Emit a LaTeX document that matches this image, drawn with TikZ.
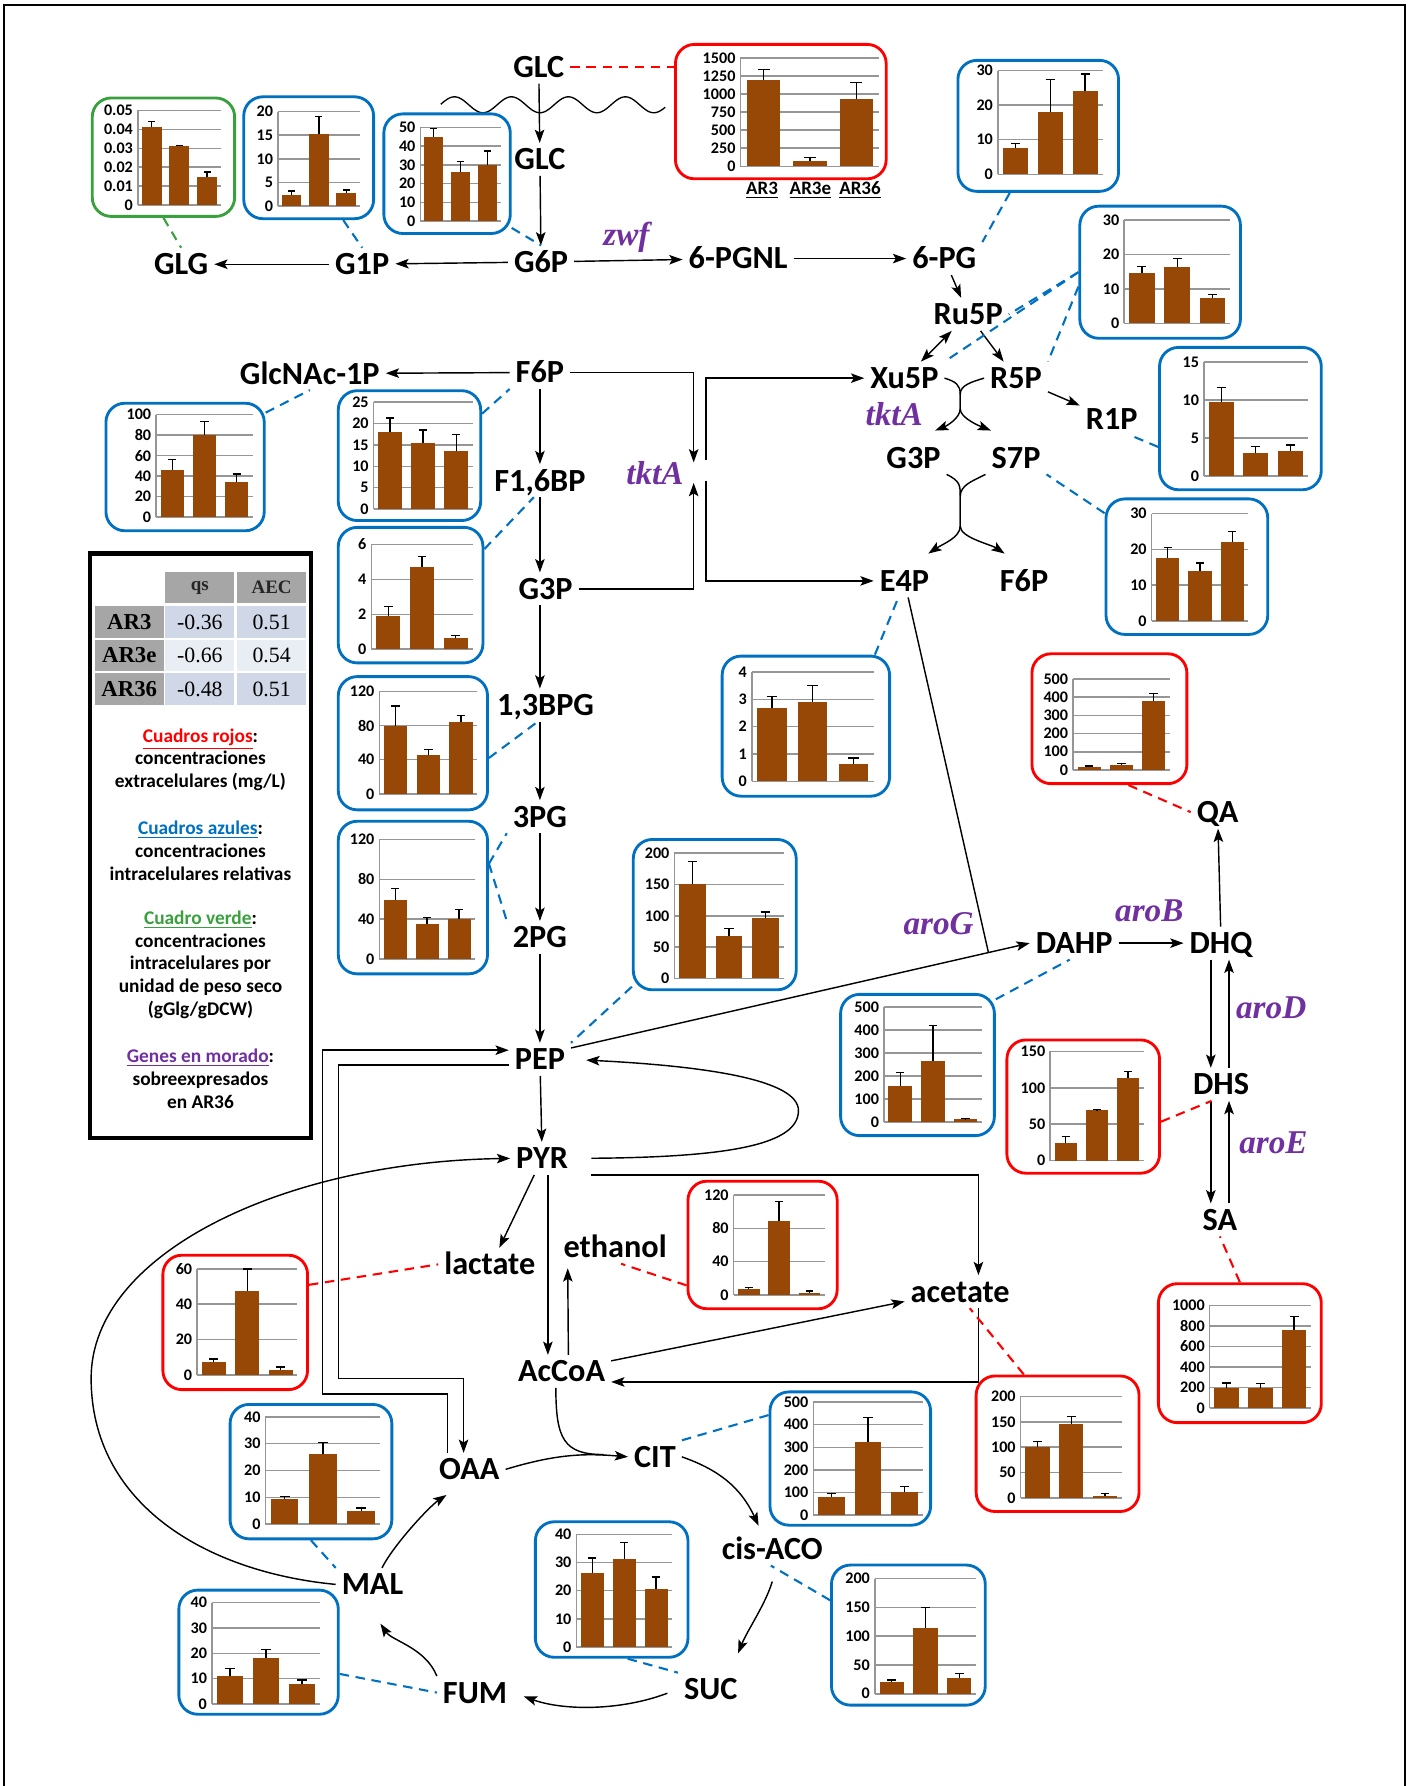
\documentclass[tikz,border=0pt]{standalone}
\usepackage{fontspec}
\setmainfont{Carlito}
\newfontfamily\genefont{Liberation Serif}
\usetikzlibrary{arrows.meta,calc,fit}

\definecolor{azul}{RGB}{0,112,192}
\definecolor{rojo}{RGB}{255,0,0}
\definecolor{verde}{RGB}{56,160,60}
\definecolor{morado}{RGB}{112,48,160}
\definecolor{cafe}{RGB}{151,72,6}
\definecolor{rejilla}{RGB}{150,150,150}
\definecolor{celgris}{RGB}{166,166,166}
\definecolor{celazul}{RGB}{208,216,232}
\definecolor{celclaro}{RGB}{233,237,244}

\tikzset{
  met/.style={font=\bfseries\fontsize{17}{17}\selectfont, inner sep=3pt, text height=11pt, text depth=0pt},
  gene/.style={font=\genefont\bfseries\itshape\fontsize{17.5}{17.5}\selectfont, text=morado, inner sep=1pt},
  flow/.style={line width=0.75pt, -{Stealth[length=7pt,width=5pt,inset=1.5pt]}},
  flowboth/.style={line width=0.75pt, {Stealth[length=7pt,width=5pt,inset=1.5pt]}-{Stealth[length=7pt,width=5pt,inset=1.5pt]}},
  thinline/.style={line width=0.75pt},
  dlink/.style={dash pattern=on 5pt off 3.5pt, line width=1.1pt},
  blink/.style={dlink, draw=azul},
  rlink/.style={dlink, draw=rojo},
  glink/.style={dlink, draw=verde},
  chartbox/.style={draw=#1, line width=1.5pt, rounded corners=10pt, inner sep=0pt},
  gline/.style={draw=rejilla, line width=0.8pt},
  ticklbl/.style={font=\bfseries\fontsize{8.5}{8.5}\selectfont, anchor=east, inner sep=0pt},
  barfill/.style={fill=cafe},
  err/.style={line width=0.7pt},
  cell/.style={minimum width=36.4pt, minimum height=16.6pt, inner sep=0pt, font=\genefont\fontsize{11.5}{12}\selectfont},
  legtext/.style={align=center, font=\bfseries\fontsize{10.2}{12}\selectfont},
  strain/.style={font=\bfseries\fontsize{10}{10}\selectfont, inner sep=1pt},
}

% chart helpers: frame node, then gridlines, then bars
\def\setplot#1/#2/#3/#4/#5\relax{\def\xa{#1}\def\yb{#2}\def\xr{#3}\def\yt{#4}\def\ym{#5}}
\newcommand{\chart}[4]{%
  \node[chartbox=#2, fit={#3}] (#1) {};
  \setplot#4\relax}
\newcommand{\ticks}[1]{%
  \foreach \v in {#1}{
    \pgfmathsetmacro\ty{\yb-(\yb-\yt)*(\v/\ym)}
    \draw[gline] (\xa,\ty) -- (\xr,\ty);
    \node[ticklbl] at ({\xa-4},\ty) {\v};}
  \draw[gline] (\xa,\yb) -- (\xa,\yt);}
\newcommand{\bars}[1]{%
  \foreach \v/\e [count=\i] in {#1}{
    \pgfmathsetmacro\bw{(\xr-\xa)/3}
    \pgfmathsetmacro\bx{\xa+(\i-0.5)*\bw}
    \pgfmathsetmacro\bt{\yb-(\yb-\yt)*(\v/\ym)}
    \pgfmathsetmacro\et{\yb-(\yb-\yt)*((\v+\e)/\ym)}
    \fill[barfill] ({\bx-0.36*\bw},\yb) rectangle ({\bx+0.36*\bw},\bt);
    \draw[err] (\bx,\bt) -- (\bx,\et) ({\bx-0.13*\bw},\et) -- ({\bx+0.13*\bw},\et);}}

\begin{document}
\begin{tikzpicture}[x=0.6pt,y=-0.6pt]
\useasboundingbox (0,0) rectangle (1238,1568);
\draw[line width=1.2pt] (3.5,1568) -- (3.5,4.5) -- (1233.5,4.5) -- (1233.5,1568);

% metabolites
\node[met] (glcout) at (473,59) {GLC};
\node[met] (glc) at (474,140) {GLC};
\node[met] (g6p) at (475,230) {G6P};
\node[met] (glg) at (159,232) {GLG};
\node[met] (g1p) at (318,232) {G1P};
\node[met] (pgnl) at (648,227) {6-PGNL};
\node[met] (pg) at (829,227) {6-PG};
\node[met] (ru5p) at (850,276) {Ru5P};
\node[met] (xu5p) at (794,332) {Xu5P};
\node[met] (r5p) at (892,332) {R5P};
\node[met] (r1p) at (976,368) {R1P};
\node[met] (g3pr) at (802,402) {G3P};
\node[met] (s7p) at (892,402) {S7P};
\node[met] (e4p) at (794,510) {E4P};
\node[met] (f6pr) at (899,510) {F6P};
\node[met] (f6p) at (474,327) {F6P};
\node[met] (glcnac) at (272,328) {GlcNAc-1P};
\node[met] (fbp) at (474,422) {F1,6BP};
\node[met] (g3p) at (479,517) {G3P};
\node[met] (bpg) at (479,619) {1,3BPG};
\node[met] (pg3) at (474,717) {3PG};
\node[met] (pg2) at (474,823) {2PG};
\node[met] (pep) at (474,930) {PEP};
\node[met] (pyr) at (476,1017) {PYR};
\node[met] (lac) at (430,1110) {lactate};
\node[met] (eth) at (540,1095) {ethanol};
\node[met] (ace) at (843,1134) {acetate};
\node[met] (accoa) at (493,1204) {AcCoA};
\node[met] (oaa) at (412,1290) {OAA};
\node[met] (cit) at (575,1279) {CIT};
\node[met] (aco) at (678,1360) {cis-ACO};
\node[met] (suc) at (624,1483) {SUC};
\node[met] (fum) at (417,1486) {FUM};
\node[met] (mal) at (327,1391) {MAL};
\node[met] (qa) at (1069,713) {QA};
\node[met] (dahp) at (943,828) {DAHP};
\node[met] (dhq) at (1072,828) {DHQ};
\node[met] (dhs) at (1072,952) {DHS};
\node[met] (sa) at (1071,1071) {SA};

% genes
\node[gene] (zwf) at (550,208) {zwf};
\node[gene] (tkta1) at (575,415) {tktA};
\node[gene] (tkta2) at (785,364) {tktA};
\node[gene] (arog) at (824,811) {aroG};
\node[gene] (arob) at (1009,800) {aroB};
\node[gene] (arod) at (1116,885) {aroD};
\node[gene] (aroe) at (1118,1003) {aroE};

% membrane
\draw[line width=0.7pt] plot[domain=387:584, samples=150, smooth] (\x,{92-7*sin(7.2*(\x-386.5))});

% glycolysis and side branches
\draw[flow] (glcout) -- (glc);
\draw[flow] (glc) -- (g6p);
\draw[flow] (g6p) -- (g1p);
\draw[flow] (g1p) -- (glg);
\draw[flow] (g6p) -- (pgnl);
\draw[flow] (pgnl) -- (pg);
\draw[flow] (pg) -- (ru5p);
\draw[flowboth] (ru5p) -- (xu5p);
\draw[flow] (ru5p) -- (r5p);
\draw[flow] (r5p) -- (r1p);
\draw[flow] (f6p) -- (glcnac);
\draw[flow] (f6p) -- (fbp);
\draw[flow] (fbp) -- (fbp |- g3p.north);
\draw[flow] (g3p.south -| fbp) -- (bpg.north -| fbp);
\draw[flow] (bpg.south -| fbp) -- (pg3.north -| fbp);
\draw[flow] (pg3) -- (pg2);
\draw[flow] (pg2) -- (pep);
\draw[flow] (pep) -- (pyr);

% transketolase crossings
\coordinate (xa1) at (843,346);
\coordinate (xa2) at (843,359);
\coordinate (tipg3) at (821,378);
\coordinate (tips7) at (870,378);
\draw[flow] (xu5p.east) .. controls +(10,3) and +(0,-8) .. (xa1) -- (xa2) .. controls +(0,8) and +(10,-4) .. (tipg3);
\draw[flow] (r5p.west) .. controls +(-10,3) and +(0,-8) .. (xa1) -- (xa2) .. controls +(0,8) and +(-10,-4) .. (tips7);
\coordinate (xb1) at (843,436);
\coordinate (xb2) at (843,462);
\coordinate (tipe4) at (815,486);
\coordinate (tipf6) at (882,486);
\draw[flow] (g3pr.south east) .. controls +(12,6) and +(0,-10) .. (xb1) -- (xb2) .. controls +(0,10) and +(12,-8) .. (tipe4);
\draw[flow] (s7p.south west) .. controls +(-12,6) and +(0,-10) .. (xb1) -- (xb2) .. controls +(0,10) and +(-12,-8) .. (tipf6);

% tktA bracket
\coordinate (tkin1) at (609,406);
\coordinate (tkin2) at (609,424);
\coordinate (tkout1) at (620,404);
\coordinate (tkout2) at (620,422);
\draw[flow] (f6p.east) -| (tkin1);
\draw[flow] (g3p.east) -| (tkin2);
\draw[flow] (tkout1) |- (xu5p.west);
\draw[flow] (tkout2) |- (e4p.west);

% shikimate
\coordinate (jn) at ($(pep.20)!0.91!(dahp.west)$);
\draw[thinline] (e4p) -- (jn);
\draw[flow] (pep.20) -- (dahp.west);
\draw[flow] (dahp) -- (dhq);
\draw[flow] (dhq) -- (qa);
\draw[flow] ($(dhq.south)+(-9,0)$) -- ($(dhs.north)+(-9,0)$);
\draw[flow] ($(dhs.north)+(7,0)$) -- ($(dhq.south)+(7,0)$);
\draw[flow] ($(dhs.south)+(-9,0)$) -- ($(sa.north)+(-8,0)$);
\draw[flow] ($(sa.north)+(8,0)$) -- ($(dhs.south)+(7,0)$);

% pyruvate node
\draw[flow, shorten <=9pt, shorten >=8pt] (pyr.east) .. controls (640,1016) and (701,1005) .. (701,975) .. controls (701,948) and (620,936) .. (pep.east);
\draw[flow, shorten <=9pt] (pyr.south east) -| ($(ace.north)+(16,0)$);
\draw[flow] ($(ace.south)+(16,0)$) |- (accoa.-12);
\draw[flow] (accoa.12) -- (ace.190);
\draw[flow] (pyr) -- (lac.60);
\draw[flow] ($(pyr.south)+(5,0)$) -- ($(accoa.north)+(-12,0)$);
\draw[flow] ($(accoa.north)+(6,0)$) -- ($(eth.south west)+(9,4)$);
\draw[flow] ($(oaa.north)+(-19,0)$) |- (283,1224) |- ($(pep.west)+(0,-8)$);
\draw[flow] ($(pep.west)+(0,5)$) -| (297,1210) -| ($(oaa.north)+(-5,0)$);

% TCA cycle
\coordinate (cjoin) at (530,1277);
\draw[flow] (oaa.east) .. controls (490,1276) and (515,1276) .. (cit.west);
\draw[thinline] ($(accoa.south)+(-5,0)$) .. controls ($(accoa.south)+(-5,45)$) and (495,1277) .. (cjoin);
\draw[flow] (cit.east) .. controls (630,1290) and (650,1305) .. ($(aco.north)+(-12,-6)$);
\draw[flow] ($(aco.south)+(0,14)$) .. controls +(-6,20) and +(8,-20) .. ($(suc.north)+(24,-17)$);
\draw[flow, shorten <=6pt, shorten >=6pt] (suc.west) .. controls (545,1502) and (495,1502) .. (fum.east);
\draw[flow] (fum.north west) .. controls +(-10,-25) and +(10,15) .. ($(mal.south)+(7,20)$);
\draw[flow] (mal.60) .. controls +(10,-20) and +(-15,10) .. ($(oaa.south)+(-20,8)$);
\draw[flow] (mal.west) .. controls (180,1380) and (80,1320) .. (80,1210) .. controls (80,1100) and (250,1020) .. (pyr.west);

% charts
\chart{chGLG}{verde}{(81,86) (206,190)}{121/180/194/97/0.05}
\ticks{0,0.01,0.02,0.03,0.04,0.05}
\bars{0.041/0.003,0.031/0.0005,0.015/0.0025}

\chart{chG1P}{azul}{(214,85) (328,192)}{244/181/316/98/20}
\ticks{0,5,10,15,20}
\bars{2.3/0.9,15.2/3.8,2.8/0.6}

\chart{chG6P}{azul}{(337,100) (448,205)}{369/194/440/112/50}
\ticks{0,10,20,30,40,50}
\bars{45/4.5,26/6,30/7.5}

\chart{chGLC}{rojo}{(593,39) (778,157)}{650/146/772/51/1500}
\ticks{0,250,500,750,1000,1250,1500}
\bars{1190/150,80/40,930/230}
\node[strain] (s1) at (669,167) {\underline{AR3}};
\node[strain] (s2) at (711.5,167) {\underline{AR3e}};
\node[strain] (s3) at (755,167) {\underline{AR36}};

\chart{chPG}{azul}{(841,53) (982,168)}{876/153/968/62/30}
\ticks{0,10,20,30}
\bars{7.5/1.5,18/9.5,24/5}

\chart{chR5P}{azul}{(948,181) (1089,297)}{987/284/1080/193/30}
\ticks{0,10,20,30}
\bars{14.5/2,16.3/2.5,7.5/0.8}

\chart{chR1P}{azul}{(1018,305) (1160,430)}{1057/418/1148/318/15}
\ticks{0,5,10,15}
\bars{9.8/1.9,3/0.9,3.3/0.8}

\chart{chS7P}{azul}{(971,438) (1113,557)}{1011/545/1096/451/30}
\ticks{0,10,20,30}
\bars{17.5/3,14/2.2,22/3}

\chart{chE4P}{azul}{(634,576) (781,699)}{660/686/767/590/4}
\ticks{0,1,2,3,4}
\bars{2.7/0.4,2.9/0.6,0.65/0.2}

\chart{chQA}{rojo}{(906,574) (1042,688)}{942/676/1027/596/500}
\ticks{0,100,200,300,400,500}
\bars{15/6,30/5,380/40}

\chart{chGlcNAc}{azul}{(93,354) (232,466)}{137/454/222/364/100}
\ticks{0,20,40,60,80,100}
\bars{46/10,80/13,34/8}

\chart{chF6P}{azul}{(297,343) (422,457)}{328/447/415/353/25}
\ticks{0,5,10,15,20,25}
\bars{18/3.3,15.5/3,13.5/4}

\chart{chFBP}{azul}{(297,463) (424,582)}{326/570/415/478/6}
\ticks{0,2,4,6}
\bars{1.9/0.55,4.7/0.6,0.65/0.15}

\chart{chBPG}{azul}{(297,594) (428,711)}{333/697/419/607/120}
\ticks{0,40,80,120}
\bars{80/23,46/6,84/8}

\chart{chPG3}{azul}{(297,721) (428,855)}{333/842/417/737/120}
\ticks{0,40,80,120}
\bars{59/12,35/7,40/10}

\chart{chPEP}{azul}{(556,737) (699,869)}{592/859/688/749/200}
\ticks{0,50,100,150,200}
\bars{150/37,67/13,96/10}

\chart{chDAHP}{azul}{(738,873) (873,997)}{776/985/862/884/500}
\ticks{0,100,200,300,400,500}
\bars{158/58,266/152,11/4}

\chart{chDHS}{rojo}{(884,913) (1018,1030)}{922/1019/1004/923/150}
\ticks{0,50,100,150}
\bars{24/9,69/1,114/8}

\chart{chLac}{rojo}{(143,1102) (270,1220)}{173/1207/261/1114/60}
\ticks{0,20,40,60}
\bars{7/2,47.5/12.5,3/1.5}

\chart{chEth}{rojo}{(604,1037) (735,1149)}{644/1137/724/1049/120}
\ticks{0,40,80,120}
\bars{7/2,89/23,3/2}

\chart{chSA}{rojo}{(1017,1127) (1160,1249)}{1062/1236/1151/1146/1000}
\ticks{0,200,400,600,800,1000}
\bars{193/48,195/45,763/130}

\chart{chAce}{rojo}{(857,1208) (1000,1327)}{896/1315/985/1226/200}
\ticks{0,50,100,150,200}
\bars{100/11,146/15,4/5}

\chart{chCIT}{azul}{(676,1222) (817,1339)}{714/1330/810/1231/500}
\ticks{0,100,200,300,400,500}
\bars{78/16,324/109,100/27}

\chart{chMAL}{azul}{(202,1233) (344,1351)}{233/1338/334/1244/40}
\ticks{0,10,20,30,40}
\bars{9.5/0.8,26/4.5,5/1}

\chart{chFUM}{azul}{(157,1396) (297,1505)}{186/1496/281/1407/40}
\ticks{0,10,20,30,40}
\bars{11/3,18/3.5,8/1.5}

\chart{chSUC}{azul}{(470,1336) (604,1455)}{506/1446/590/1347/40}
\ticks{0,10,20,30,40}
\bars{26.3/5.3,31.3/5.8,20.5/4.3}

\chart{chACO}{azul}{(730,1374) (865,1497)}{768/1487/857/1386/200}
\ticks{0,50,100,150,200}
\bars{20/4,115/35,27/8}

% dashed links chart -- metabolite
\draw[rlink] (glcout.east) -- (glcout.east -| chGLC.west);
\draw[glink] (chGLG.south) -- (glg.north);
\draw[blink] (chG1P.-61) -- (g1p.north);
\draw[blink] (chG6P.-40) -- (g6p.north);
\draw[blink] (chPG.-113) -- (pg.north east);
\draw[blink] (chR5P.west) -- (ru5p.east);
\draw[blink] (chR5P.west) -- (xu5p.north east);
\draw[blink] (chR5P.190) -- (r5p.north east);
\draw[blink] (chR1P.199) -- (r1p.-40);
\draw[blink] (chS7P.147) -- (s7p.south east);
\draw[blink] (chE4P.46) -- (e4p.-110);
\draw[rlink] (chQA.-74) -- (qa.west);
\draw[blink] (chDAHP.40) -- (dahp.-105);
\draw[rlink] (chDHS.-11) -- (dhs.-120);
\draw[rlink] (chSA.north) -- (sa.south);
\draw[rlink] (chAce.116) -- (ace.-60);
\draw[rlink] (chEth.208) -- (eth.-70);
\draw[rlink] (chLac.27) -- (lac.west);
\draw[blink] (chCIT.152) -- (cit.north east);
\draw[blink] (chACO.156) -- (aco.-95);
\draw[blink] (chMAL.south) -- (mal.north west);
\draw[blink] (chFUM.-15) -- (fum.west);
\draw[blink] (chSUC.-77) -- (suc.north west);
\draw[blink] (chGlcNAc.34) -- (glcnac.south);
\draw[blink] (chF6P.30) -- (f6p.south west);
\draw[blink] (chFBP.32) -- (fbp.-110);
\draw[blink] (chBPG.-11) -- (bpg.-115);
\draw[blink] (chPG3.24) -- (pg3.south west);
\draw[blink] (chPG3.24) -- (pg2.north west);
\draw[blink] (chPEP.221) -- (pep.north east);

% legend box with table
\node[draw, line width=2.5pt, inner sep=0pt, fit={(79,486) (273,999)}] (legbox) {};
\node[cell, fill=celgris, text=black!85] (hqs) at (175.5,516) {\bfseries\fontsize{10}{10}\selectfont qs};
\node[cell, fill=celgris, text=black!85] (haec) at (238.5,516) {\bfseries\fontsize{10}{10}\selectfont AEC};
\foreach \r/\y/\a/\b/\c in {AR3/546/-0.36/0.51/celazul, AR3e/575.5/-0.66/0.54/celclaro, AR36/605/-0.48/0.51/celazul}{
  \node[cell, fill=celgris] (l\r) at (113.5,\y) {\bfseries\fontsize{12}{12}\selectfont \r};
  \node[cell, fill=\c] (q\r) at (175.5,\y) {\a};
  \node[cell, fill=\c] (e\r) at (238.5,\y) {\b};
}
\node[legtext] (lgred) at (176,667) {\textcolor{rojo}{\underline{Cuadros rojos}}:\\concentraciones\\extracelulares (mg/L)};
\node[legtext] (lgblue) at (176,747) {\textcolor{azul}{\underline{Cuadros azules}}:\\concentraciones\\intracelulares relativas};
\node[legtext] (lggreen) at (176,847) {\textcolor{verde}{\underline{Cuadro verde}}:\\concentraciones\\intracelulares por\\unidad de peso seco\\(gGlg/gDCW)};
\node[legtext] (lgpurple) at (176,947) {\textcolor{morado}{\underline{Genes en morado}}:\\sobreexpresados\\en AR36};
\end{tikzpicture}
\end{document}
